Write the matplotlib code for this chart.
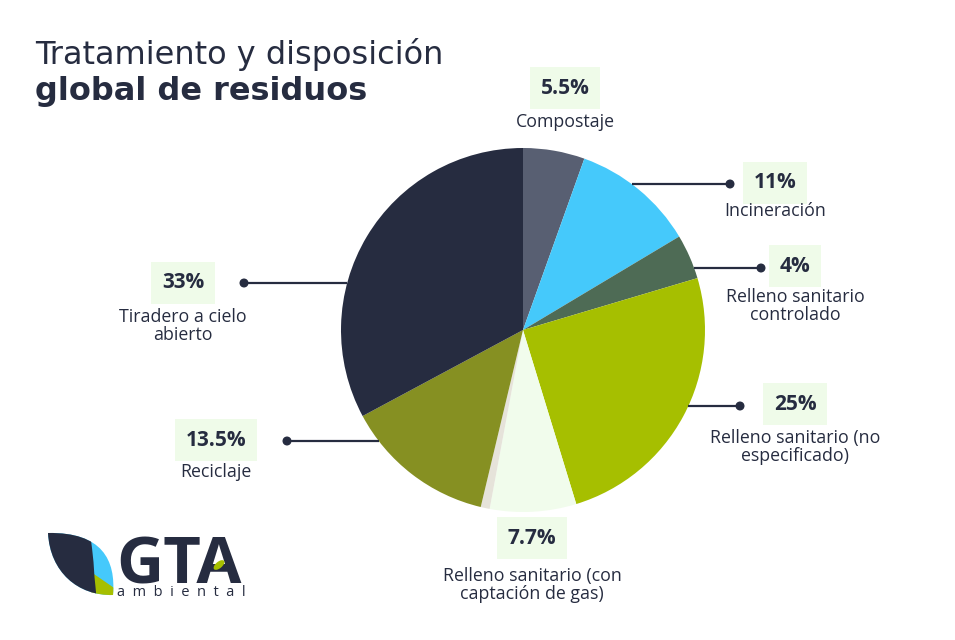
import numpy as np
import matplotlib
matplotlib.use("Agg")
import matplotlib.pyplot as plt
from matplotlib.patches import Circle, Ellipse, Polygon, PathPatch
from matplotlib.path import Path

# ---------------- data ----------------
categories = ["Compostaje", "Incineración", "Relleno sanitario\ncontrolado",
              "Relleno sanitario (no\nespecificado)", "Relleno sanitario (con\ncaptación de gas)",
              "Otros", "Reciclaje", "Tiradero a cielo\nabierto"]
values = [5.5, 11, 4, 25, 7.7, 0.8, 13.5, 33]
pct_labels = ["5.5%", "11%", "4%", "25%", "7.7%", None, "13.5%", "33%"]
colors = ["#585f72", "#45c9fb", "#4e6b55", "#a6bf00", "#f1fcec", "#e6e3da", "#869022", "#262c40"]

# ---------------- layout ----------------
W, H = 955, 640
NAVY = "#262c40"
BOX = "#effbe9"
FONT = ["Open Sans", "DejaVu Sans"]
TFONT = ["DejaVu Sans"]
CX, CY, R = 523, 330, 182

# label layout: (box center x, box center y, label center y, line y or None, side, dot x)
layout = {
    0: (565, 88, 122, None, None, None),
    1: (775, 183, 211, 184, "r", 730),
    2: (795, 266, 306, 268, "r", 761),
    3: (795, 404, 447, 406, "r", 740),
    4: (532, 538, 585, None, None, None),
    6: (216, 440, 472, 441, "l", 287),
    7: (183, 283, 326, 283, "l", 244),
}

fig = plt.figure(figsize=(W / 100, H / 100), dpi=100)
ax = fig.add_axes([0, 0, 1, 1])

def Y(y):
    return H - y

ax.pie(values, colors=colors, startangle=90, counterclock=False,
       center=(CX, Y(CY)), radius=R, wedgeprops=dict(linewidth=0))
ax.set_xlim(0, W)
ax.set_ylim(0, H)
ax.set_aspect("equal")
ax.axis("off")

for i, lab in enumerate(categories):
    if i not in layout:
        continue
    bx, by, ly, liney, side, dotx = layout[i]
    ax.text(bx, Y(by), pct_labels[i], ha="center", va="center", fontsize=15,
            fontweight="bold", color=NAVY, family=FONT,
            bbox=dict(boxstyle="square,pad=0.5", fc=BOX, ec="none"))
    ax.text(bx, Y(ly), lab, ha="center", va="center", fontsize=12.8,
            color=NAVY, family=FONT, linespacing=1.05, multialignment="center")
    if liney is not None:
        dy = liney - CY
        edge = np.sqrt(R ** 2 - dy ** 2)
        x0 = CX + edge if side == "r" else CX - edge
        ax.plot([x0, dotx], [Y(liney), Y(liney)], color=NAVY, lw=1.6,
                solid_capstyle="butt", zorder=5)
        ax.add_patch(Circle((dotx, Y(liney)), 3.8, color=NAVY, zorder=6))

# ---------------- title ----------------
ax.text(35, Y(64), "Tratamiento y disposición", fontsize=23, color=NAVY,
        family=TFONT, ha="left", va="baseline")
ax.text(35, Y(100), "global de residuos", fontsize=23, fontweight="bold",
        color=NAVY, family=TFONT, ha="left", va="baseline")

# ---------------- logo ----------------
def P(pts):
    return [(x, Y(y)) for x, y in pts]

C4 = Path.CURVE4
leaf = Path(P([(48, 533), (50, 572), (78, 596), (113, 595),
               (116, 560), (102, 532), (48, 533), (48, 533)]),
            [Path.MOVETO, C4, C4, C4, C4, C4, C4, Path.CLOSEPOLY])
leaf_patch = PathPatch(leaf, fc="#45c9fb", ec="none")
ax.add_patch(leaf_patch)
lime = Polygon(P([(91, 572), (120, 592), (120, 610), (91, 610)]), closed=True,
               fc="#a6bf00", ec="none")
ax.add_patch(lime)
lime.set_clip_path(leaf_patch)
dark = Polygon(P([(40, 520), (88, 520), (90, 533), (92, 548), (93.5, 562),
                  (94.5, 577), (96, 592), (97, 610), (40, 610)]), closed=True,
               fc=NAVY, ec="none")
ax.add_patch(dark)
dark.set_clip_path(leaf_patch)

ax.text(116, Y(583), "GTA", fontsize=47, fontweight="bold", color=NAVY,
        family=FONT, ha="left", va="baseline")
ax.add_patch(Ellipse((219, Y(565)), 13, 6.5, angle=40, fc="#a6bf00", ec="none", zorder=7))
ax.text(117, Y(596), "a  m  b  i  e  n  t  a  l", fontsize=10.5, color=NAVY,
        family=FONT, ha="left", va="baseline")

fig.savefig("out.png", dpi=100, facecolor="white")
